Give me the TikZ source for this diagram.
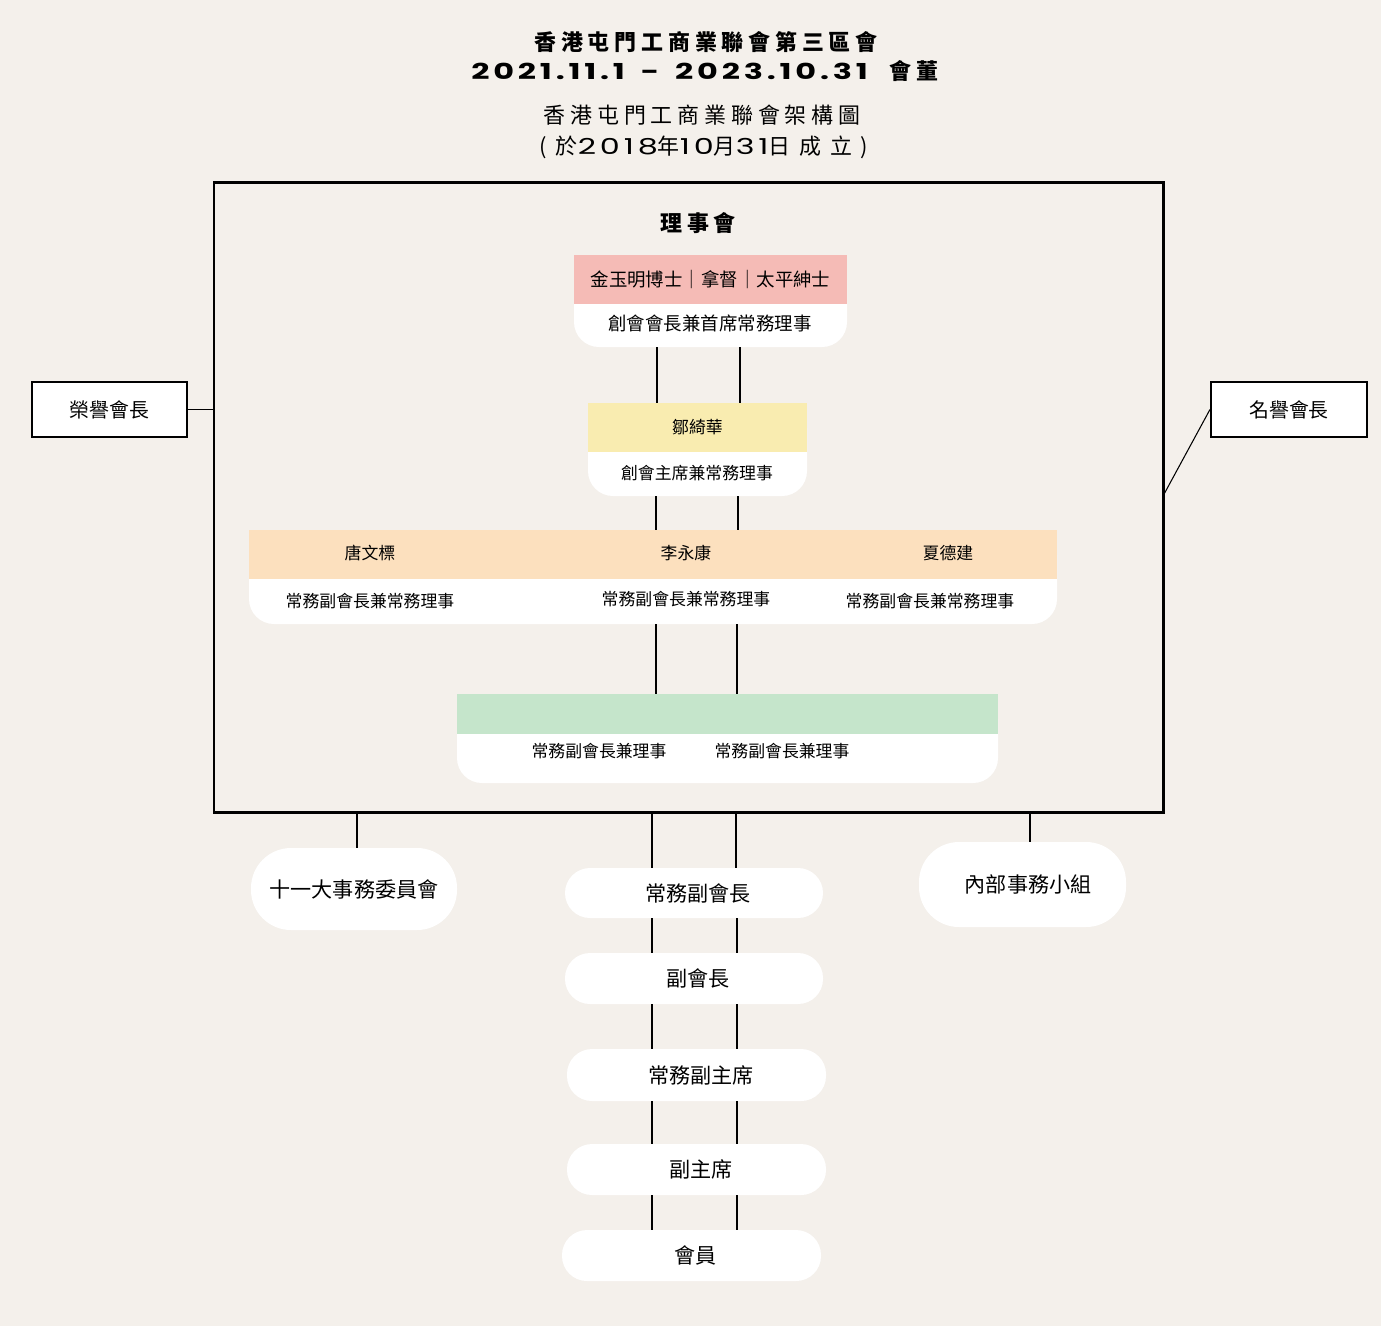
\documentclass[tikz,border=0pt]{standalone}
\usepackage{fontspec}
\setmainfont{Noto Sans CJK TC}
\newfontfamily\spaced[LetterSpace=22]{Noto Sans CJK TC}
\newfontfamily\widespaced[LetterSpace=40]{Noto Sans CJK TC}
\newfontfamily\datefont[LetterSpace=12]{Poppins}
\newcommand{\widedigits}[1]{\scalebox{1.45}[1]{\datefont #1}}
\usetikzlibrary{positioning}
\definecolor{paper}{RGB}{244,240,235}
\definecolor{pinkhead}{RGB}{245,187,182}
\definecolor{yellowhead}{RGB}{249,236,176}
\definecolor{peachhead}{RGB}{252,224,190}
\definecolor{greenhead}{RGB}{197,229,203}

\begin{document}
\begin{tikzpicture}[x=0.02cm, y=-0.02cm]
\tikzset{wh/.style 2 args={minimum width=#1*0.02cm, minimum height=#2*0.02cm}}
\tikzstyle{cardbg} = [fill=white, rounded corners=0.5cm, inner sep=0pt]
\tikzstyle{band} = [inner sep=0pt, font=\fontsize{10.5}{12}\selectfont]
\tikzstyle{role} = [inner sep=0pt, font=\fontsize{9.6}{11}\selectfont]
\tikzstyle{pill} = [fill=white, rounded corners=0.5cm, inner sep=0pt, font=\fontsize{12}{14}\selectfont]
\tikzstyle{sidebox} = [draw, line width=1.2pt, fill=white, inner sep=0pt, font=\fontsize{11.3}{13}\selectfont]
\tikzstyle{link} = [line width=0.6pt]

\useasboundingbox[fill=paper] (0,0) rectangle (1381,1326);

% titles
\node (title) at (706,42) {\fontsize{12.5}{14}\spaced\bfseries 香港屯門工商業聯會第三區會};
\node (term) at (705,71) {\fontsize{12.5}{14}\selectfont\bfseries\widedigits{2021.11.1\,\ -\ \,2023.10.31}\quad{\spaced 會董}};
\node (chart) at (702,115) {\fontsize{12.5}{14}\spaced 香港屯門工商業聯會架構圖};
\node (founded) at (704,147) {\fontsize{12.5}{14}\widespaced (於\widedigits{2018}年\widedigits{10}月\widedigits{31}日成立)};

% council frame
\node[draw, line width=1.7pt, inner sep=0pt, wh={949}{630}] (council) at (688.5,497) {};
\node (councilname) at (698,223) {\fontsize{12.5}{14}\spaced\bfseries 理事會};

% founder
\node[cardbg, wh={273}{92}] (foundercard) at (710.5,301) {};
\node[band, fill=pinkhead, wh={273}{49}] (founder) at (710.5,279.5) {金玉明博士｜拿督｜太平紳士};
\node[role, font=\fontsize{10.5}{12}\selectfont] (founderrole) at (710,323) {創會會長兼首席常務理事};

% chairman
\node[cardbg, wh={219}{93}] (chaircard) at (697.5,449.5) {};
\node[band, fill=yellowhead, wh={219}{49}, font=\fontsize{9.6}{11}\selectfont] (chair) at (697.5,427.5) {鄒綺華};
\node[role] (chairrole) at (697,473) {創會主席兼常務理事};

% executive vice presidents
\node[cardbg, wh={808}{94}] (execcard) at (653,577) {};
\node[band, fill=peachhead, wh={808}{49}] (execband) at (653,554.5) {};
\node[role] (tang) at (370,553) {唐文標};
\node[role] (lee) at (686,553) {李永康};
\node[role] (ha) at (948,553) {夏德建};
\node[role] (tangrole) at (370,601) {常務副會長兼常務理事};
\node[role] (leerole) at (686,599) {常務副會長兼常務理事};
\node[role] (harole) at (930,601) {常務副會長兼常務理事};

% directors
\node[cardbg, wh={541}{89}] (directorcard) at (727.5,738.5) {};
\node[band, fill=greenhead, wh={541}{40}] (directorband) at (727.5,714) {};
\node[role] (directorone) at (599,751) {常務副會長兼理事};
\node[role] (directortwo) at (782,751) {常務副會長兼理事};

% honorary presidents
\node[sidebox, wh={155}{55}] (honorary) at (109.5,409.5) {榮譽會長};
\node[sidebox, wh={156}{55}] (titular) at (1289,409.5) {名譽會長};
\coordinate (titularjoin) at (1163,496);
\draw[link] (honorary.east) -- (honorary.east -| council.west);
\draw[link] (titular.west) -- (titularjoin);

% below the council
\node[pill, rounded corners=0.8cm, wh={206}{82}] (affairs) at (354,889) {十一大事務委員會};
\node[pill, rounded corners=0.8cm, wh={207}{85}] (internal) at (1022.5,884.5) {\hspace{16\pgflinewidth}內部事務小組};
\node[pill, wh={258}{50}] (vp) at (694,893) {\hspace{12\pgflinewidth}常務副會長};
\node[pill, wh={258}{51}] (vicepres) at (694,978.5) {\hspace{12\pgflinewidth}副會長};
\node[pill, wh={259}{52}] (execvc) at (696.5,1075) {\hspace{12\pgflinewidth}常務副主席};
\node[pill, wh={259}{51}] (vicechair) at (696.5,1169.5) {\hspace{12\pgflinewidth}副主席};
\node[pill, wh={259}{51}] (members) at (691.5,1255.5) {\hspace{12\pgflinewidth}會員};

\draw[link] (357,0 |- council.south) -- (357,0 |- affairs.north);
\draw[link] (1030,0 |- council.south) -- (1030,0 |- internal.north);

% double lines down the middle
\foreach \a/\b/\l/\r in {foundercard/chaircard/657/740, chaircard/execcard/656/738,
    execcard/directorcard/656/737, council/vp/652/736, vp/vicepres/652/737,
    vicepres/execvc/652/737, execvc/vicechair/652/737, vicechair/members/652/737}
{
  \draw[link] (\l,0 |- \a.south) -- (\l,0 |- \b.north);
  \draw[link] (\r,0 |- \a.south) -- (\r,0 |- \b.north);
}
\end{tikzpicture}
\end{document}
